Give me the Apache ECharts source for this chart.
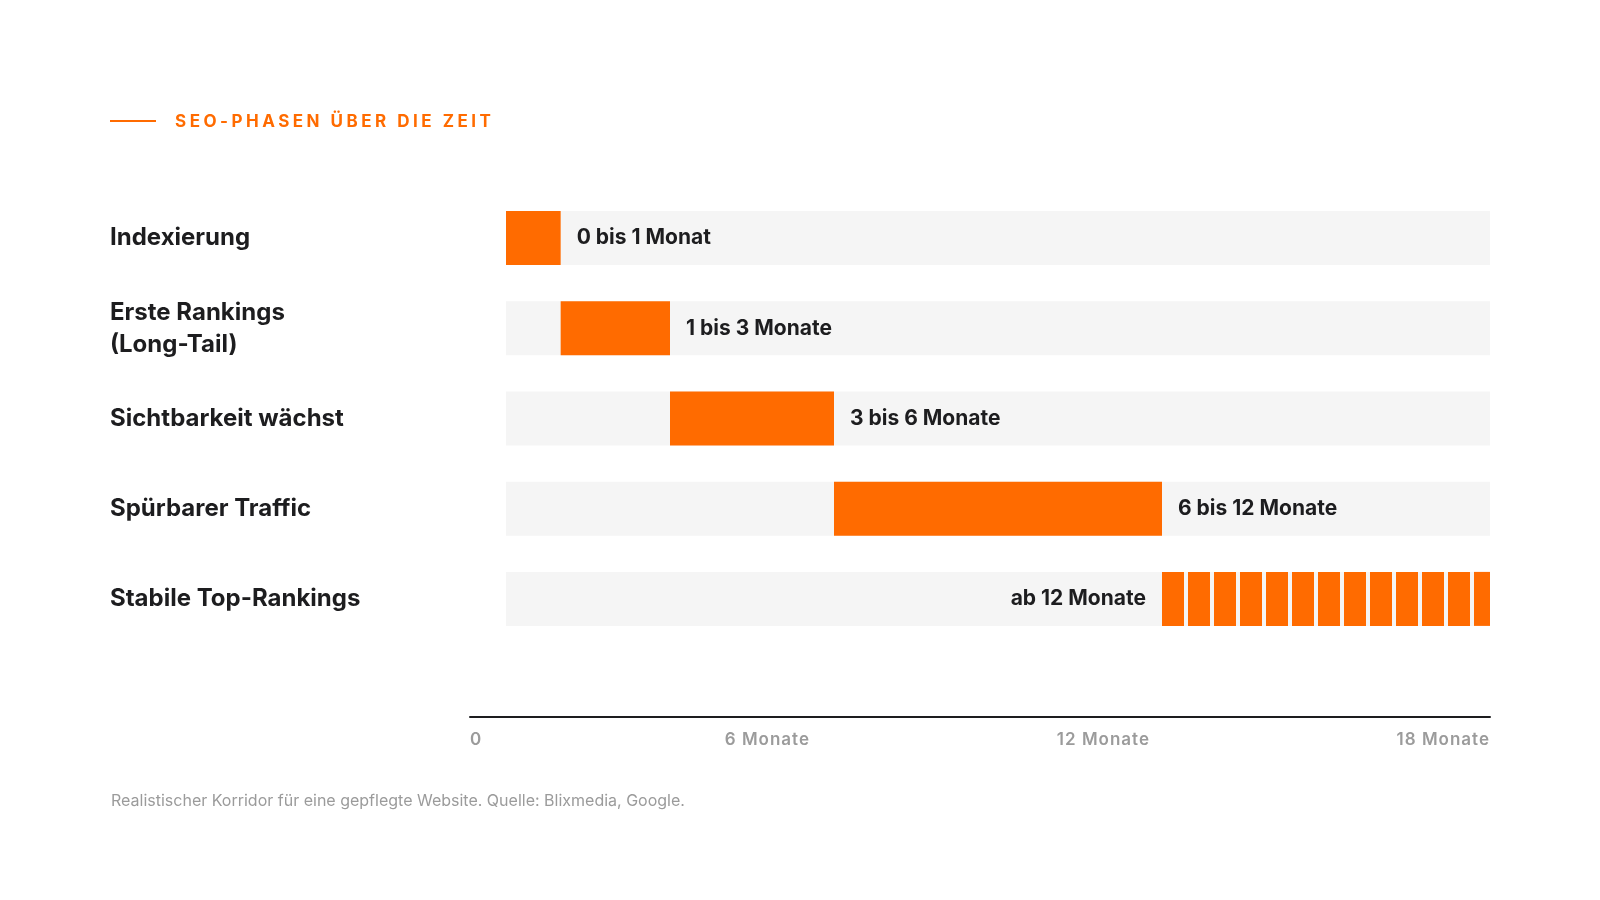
<!DOCTYPE html>
<html>
<head>
<meta charset="utf-8">
<title>SEO-Phasen über die Zeit</title>
<script src="https://cdn.jsdelivr.net/npm/echarts@6.0.0/dist/echarts.min.js"></script>
<style>
  html, body { margin: 0; padding: 0; background: #fff; }
  #chart { width: 1600px; height: 900px; }
</style>
</head>
<body>
<div id="chart"></div>
<script>
// Daten
const phases = ['Indexierung', 'Erste Rankings\n(Long-Tail)', 'Sichtbarkeit wächst', 'Spürbarer Traffic', 'Stabile Top-Rankings'];
const startMonths = [0, 1, 3, 6, 12];
const endMonths = [1, 3, 6, 12, 18];
const rangeLabels = ['0 bis 1 Monat', '1 bis 3 Monate', '3 bis 6 Monate', '6 bis 12 Monate', 'ab 12 Monate'];
const openEnded = [false, false, false, false, true];
const tickValues = [0, 6, 12, 18];
const tickLabels = ['0', '6 Monate', '12 Monate', '18 Monate'];

const titleText = 'SEO-PHASEN ÜBER DIE ZEIT';
const noteText = 'Realistischer Korridor für eine gepflegte Website. Quelle: Blixmedia, Google.';

const ORANGE = '#ff6b00';
const TRACK = '#f5f5f5';
const INK = '#1d1d1f';
const GREY = '#9b9b9b';
const FONT = 'Inter, "Noto Sans", sans-serif';

// zrender kennt kein letter-spacing, daher für einzelne Texte nachgerüstet
const tracking = { [titleText]: 3.5 };
tickLabels.forEach(t => { tracking[t] = 1; });
const origFillText = CanvasRenderingContext2D.prototype.fillText;
CanvasRenderingContext2D.prototype.fillText = function (text) {
    if (!('letterSpacing' in this)) {
        return origFillText.apply(this, arguments);
    }
    const ls = (tracking[text] || 0) + 'px';
    if (this.letterSpacing !== ls) {
        this.letterSpacing = ls;
        // Chrome übernimmt letterSpacing erst nach erneutem Setzen der Schrift
        const f = this.font;
        this.font = f;
    }
    return origFillText.apply(this, arguments);
};

const chart = echarts.init(document.getElementById('chart'), null, { renderer: 'canvas' });

function renderPhase(params, api) {
    const i = params.dataIndex;
    const row = api.value(0);
    const start = api.coord([api.value(1), row]);
    const end = api.coord([api.value(2), row]);
    const cs = params.coordSys;
    const h = 54;
    const top = start[1] - h / 2;
    const children = [{
        type: 'rect',
        shape: { x: cs.x, y: top, width: cs.width, height: h },
        style: { fill: TRACK }
    }];
    if (openEnded[i]) {
        // gestreifter Balken: 22px Farbe, 4px Lücke
        for (let x = start[0]; x < end[0] - 0.5; x += 26) {
            children.push({
                type: 'rect',
                shape: { x: x, y: top, width: Math.min(22, end[0] - x), height: h },
                style: { fill: ORANGE }
            });
        }
    } else {
        children.push({
            type: 'rect',
            shape: { x: start[0], y: top, width: end[0] - start[0], height: h },
            style: { fill: ORANGE }
        });
    }
    children.push({
        type: 'text',
        style: {
            text: rangeLabels[i],
            x: openEnded[i] ? start[0] - 16 : end[0] + 16,
            y: start[1],
            align: openEnded[i] ? 'right' : 'left',
            verticalAlign: 'middle',
            font: '700 21px ' + FONT,
            fill: INK
        }
    });
    return { type: 'group', children: children };
}

const option = {
    backgroundColor: '#ffffff',
    animation: false,
    grid: [
        { left: 506, right: 110, top: 193, bottom: 256 },
        { left: 470, right: 110, top: 660, bottom: 183 }
    ],
    xAxis: [{
        gridIndex: 0,
        type: 'value',
        min: 0,
        max: 18,
        show: false
    }, {
        gridIndex: 1,
        type: 'value',
        min: 0,
        max: 18,
        interval: 6,
        axisLine: { show: true, lineStyle: { color: INK, width: 2 } },
        axisTick: { show: false },
        splitLine: { show: false },
        axisLabel: {
            margin: 14,
            align: 'right',
            alignMinLabel: 'left',
            alignMaxLabel: 'right',
            color: GREY,
            fontFamily: FONT,
            fontSize: 17,
            fontWeight: 600,
            formatter: v => tickLabels[tickValues.indexOf(v)]
        }
    }],
    yAxis: [{
        gridIndex: 0,
        type: 'category',
        inverse: true,
        data: phases,
        axisLine: { show: false },
        axisTick: { show: false },
        splitLine: { show: false },
        axisLabel: {
            margin: 396,
            align: 'left',
            color: INK,
            fontFamily: FONT,
            fontSize: 24,
            fontWeight: 700,
            lineHeight: 32
        }
    }, {
        gridIndex: 1,
        type: 'value',
        show: false
    }],
    series: [{
        type: 'custom',
        xAxisIndex: 0,
        yAxisIndex: 0,
        renderItem: renderPhase,
        encode: { x: [1, 2], y: 0 },
        data: phases.map((p, i) => [i, startMonths[i], endMonths[i]])
    }],
    graphic: [{
        type: 'line',
        shape: { x1: 110, y1: 121, x2: 156, y2: 121 },
        style: { stroke: ORANGE, lineWidth: 2 }
    }, {
        type: 'text',
        left: 175,
        top: 113,
        style: {
            text: titleText,
            font: '700 17px ' + FONT,
            fill: ORANGE
        }
    }, {
        type: 'text',
        left: 111,
        top: 793,
        style: {
            text: noteText,
            font: '400 16px ' + FONT,
            fill: GREY
        }
    }]
};

chart.setOption(option);
</script>
</body>
</html>
